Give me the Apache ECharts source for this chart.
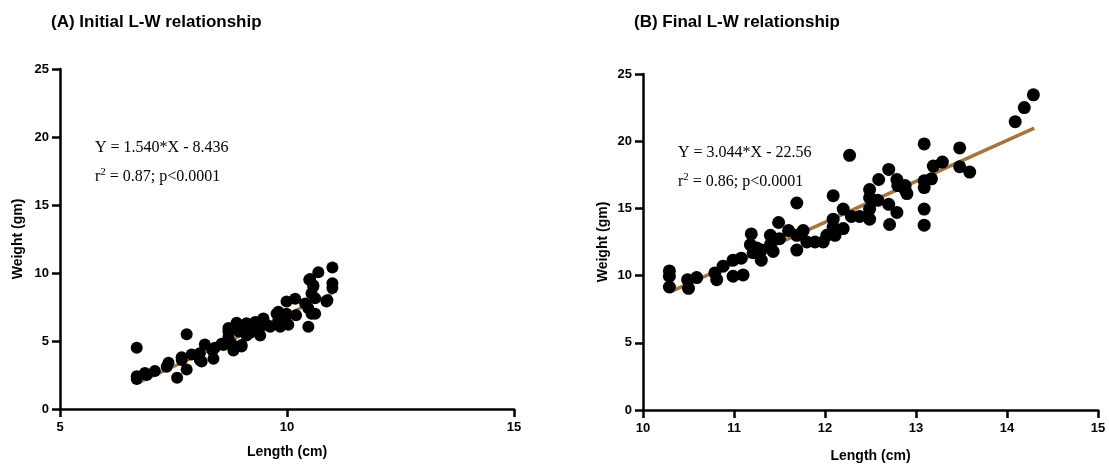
<!DOCTYPE html>
<html>
<head>
<meta charset="utf-8">
<script src="https://cdn.jsdelivr.net/npm/echarts@6/dist/echarts.min.js"></script>
<style>
  html, body { margin: 0; padding: 0; background: #fff; }
  #main { width: 1109px; height: 468px; }
</style>
</head>
<body>
<div id="main"></div>
<script>
// (A) initial length / weight
var lenA = [6.69, 6.69, 6.69, 6.87, 6.91, 7.09, 7.35, 7.39, 7.58, 7.68, 7.68, 7.79, 7.79, 7.9, 8.08, 8.08, 8.12,
	8.19, 8.36, 8.38, 8.41, 8.56, 8.6, 8.71, 8.71, 8.71, 8.78, 8.82, 8.89, 8.94, 9.0, 9.0, 9.07, 9.11, 9.11, 9.19,
	9.22, 9.3, 9.41, 9.41, 9.45, 9.48, 9.55, 9.63, 9.77, 9.81, 9.81, 9.85, 9.99, 9.99, 9.99, 10.03, 10.18, 10.2,
	10.4, 10.47, 10.47, 10.49, 10.51, 10.54, 10.54, 10.58, 10.58, 10.62, 10.62, 10.69, 10.87, 10.89, 11.0, 11.0, 11.0];
var wtA = [4.5, 2.4, 2.2, 2.65, 2.5, 2.8, 3.1, 3.4, 2.3, 3.8, 3.6, 5.5, 2.9, 4.0, 4.1, 3.6, 3.5,
	4.75, 4.3, 3.7, 4.5, 4.8, 4.7, 5.95, 5.7, 5.3, 4.8, 4.3, 6.35, 5.7, 4.6, 4.7, 6.2, 6.3, 5.4, 5.6,
	6.05, 6.4, 6.05, 5.4, 6.5, 6.65, 6.2, 6.05, 7.0, 6.5, 7.15, 6.05, 7.9, 7.0, 6.85, 6.2, 8.1, 6.9,
	7.75, 7.4, 6.05, 9.5, 9.55, 8.5, 7.0, 9.0, 9.1, 8.15, 7.0, 10.05, 7.9, 8.0, 10.4, 9.25, 8.9];
var fitA = [[6.7, 1.88], [11.0, 8.5]];

// (B) final length / weight
var lenB = [10.29, 10.29, 10.29, 10.49, 10.5, 10.59, 10.79, 10.81, 10.88, 10.99, 10.99, 11.08, 11.1, 11.18,
	11.19, 11.21, 11.25, 11.3, 11.3, 11.4, 11.4, 11.43, 11.49, 11.5, 11.6, 11.69, 11.69, 11.69, 11.76, 11.8,
	11.89, 11.98, 12.02, 12.09, 12.09, 12.09, 12.11, 12.2, 12.2, 12.27, 12.29, 12.38, 12.49, 12.49, 12.49, 12.49,
	12.58, 12.59, 12.7, 12.7, 12.71, 12.79, 12.79, 12.8, 12.88, 12.88, 12.9, 13.09, 13.09, 13.09, 13.09, 13.09,
	13.17, 13.19, 13.29, 13.48, 13.48, 13.59, 14.09, 14.19, 14.29];
var wtB = [10.35, 9.95, 9.15, 9.7, 9.05, 9.85, 10.2, 9.7, 10.7, 11.15, 9.95, 11.3, 10.05, 12.3,
	13.1, 11.7, 12.05, 11.15, 11.9, 13.0, 12.3, 11.8, 13.95, 12.75, 13.35, 15.4, 13.0, 11.9, 13.35, 12.5,
	12.5, 12.5, 13.0, 15.95, 14.2, 13.6, 13.0, 14.95, 13.5, 18.95, 14.4, 14.4, 16.4, 15.8, 14.95, 14.2,
	15.6, 17.15, 17.9, 15.3, 13.8, 17.15, 14.7, 16.7, 16.4, 16.7, 16.1, 19.8, 17.05, 16.55, 14.95, 13.75,
	17.2, 18.15, 18.45, 19.5, 18.1, 17.7, 21.45, 22.5, 23.45];
var fitB = [[10.3, 8.79], [14.3, 20.97]];

var yTicks = [0, 5, 10, 15, 20, 25];

function pairs(xs, ys) {
	var out = [];
	for (var i = 0; i < xs.length; i++) out.push([xs[i], ys[i]]);
	return out;
}

var FONT = '"Liberation Sans", Arial, sans-serif';
var SERIF = '"Liberation Serif", "Times New Roman", serif';

function axisCommon(min, max, interval, name, nameGap, labelMargin) {
	return {
		type: 'value',
		min: min,
		max: max,
		interval: interval,
		name: name,
		nameLocation: 'middle',
		nameGap: nameGap,
		nameTextStyle: { color: '#000', fontWeight: 'bold', fontSize: 14, fontFamily: FONT },
		axisLine: { show: true, onZero: false, lineStyle: { color: '#000', width: 2.5 } },
		axisTick: { show: true, length: 8, lineStyle: { color: '#000', width: 2.5 } },
		axisLabel: { color: '#000', fontWeight: 'bold', fontSize: 13, fontFamily: FONT, margin: labelMargin },
		splitLine: { show: false }
	};
}

function eqLabel(x, y, text) {
	return { type: 'text', x: x, y: y, style: { text: text, font: '16px ' + SERIF, fill: '#000', verticalAlign: 'middle' } };
}

function r2Label(x, y, rest) {
	return { type: 'text', x: x, y: y, style: {
		text: '{t|r}{s|2}{t|' + rest + '}',
		verticalAlign: 'middle',
		rich: {
			t: { font: '16px ' + SERIF, fill: '#000', verticalAlign: 'bottom' },
			s: { font: '11px ' + SERIF, fill: '#000', verticalAlign: 'top', padding: [0, 0, 7, 0] }
		}
	} };
}

var chart = echarts.init(document.getElementById('main'));

var option = {
	backgroundColor: '#fff',
	animation: false,
	title: [
		{ text: '(A) Initial L-W relationship', left: 46, top: 9,
			textStyle: { fontFamily: FONT, fontWeight: 'bold', fontSize: 17, color: '#000' } },
		{ text: '(B) Final L-W relationship', left: 629, top: 9,
			textStyle: { fontFamily: FONT, fontWeight: 'bold', fontSize: 17, color: '#000' } }
	],
	grid: [
		{ left: 60, right: 595, top: 69, bottom: 59 },
		{ left: 643, right: 11, top: 74, bottom: 54 }
	],
	xAxis: [
		Object.assign(axisCommon(5, 15, 5, 'Length (cm)', 36, 12), { gridIndex: 0 }),
		Object.assign(axisCommon(10, 15, 1, 'Length (cm)', 39, 12), { gridIndex: 1 })
	],
	yAxis: [
		Object.assign(axisCommon(yTicks[0], yTicks[yTicks.length - 1], 5, 'Weight (gm)', 35, 11), { gridIndex: 0 }),
		Object.assign(axisCommon(yTicks[0], yTicks[yTicks.length - 1], 5, 'Weight (gm)', 33, 11), { gridIndex: 1 })
	],
	series: [
		{
			type: 'line', xAxisIndex: 0, yAxisIndex: 0, data: fitA, symbol: 'none', z: 1,
			lineStyle: { color: '#A6743C', width: 3 }
		},
		{
			type: 'scatter', xAxisIndex: 0, yAxisIndex: 0, data: pairs(lenA, wtA), symbolSize: 12, z: 2,
			itemStyle: { color: '#000', opacity: 1 }
		},
		{
			type: 'line', xAxisIndex: 1, yAxisIndex: 1, data: fitB, symbol: 'none', z: 1,
			lineStyle: { color: '#A6743C', width: 3.5 }
		},
		{
			type: 'scatter', xAxisIndex: 1, yAxisIndex: 1, data: pairs(lenB, wtB), symbolSize: 13, z: 2,
			itemStyle: { color: '#000', opacity: 1 }
		}
	],
	graphic: [
		eqLabel(95, 148, 'Y = 1.540*X - 8.436'),
		r2Label(95, 176, ' = 0.87; p<0.0001'),
		eqLabel(678, 153, 'Y = 3.044*X - 22.56'),
		r2Label(678, 181, ' = 0.86; p<0.0001')
	]
};

chart.setOption(option);

window.onresize = function() {
	chart.resize();
};
</script>
</body>
</html>
